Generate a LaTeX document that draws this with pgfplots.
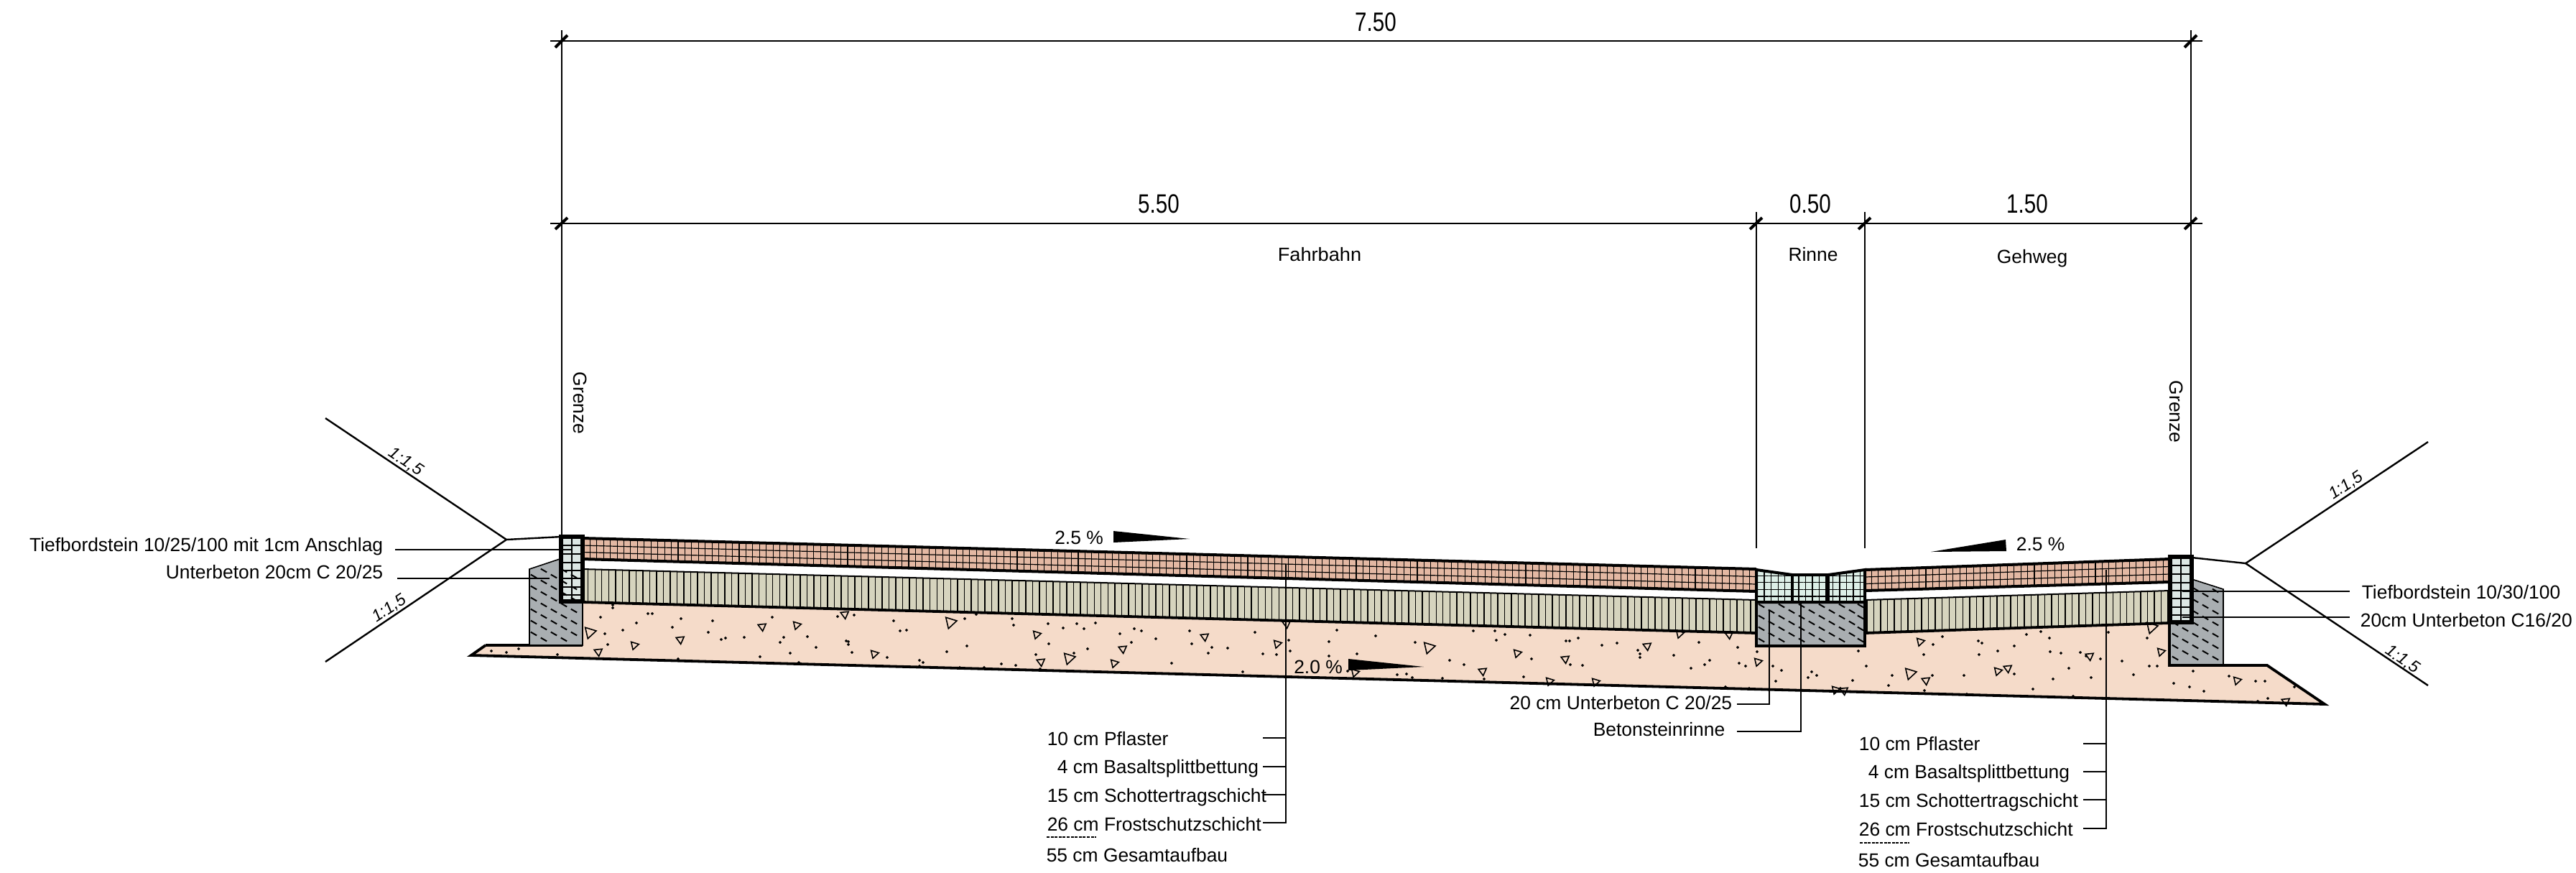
\documentclass[border=0pt]{standalone}
\usepackage{fontspec}
\setmainfont{Liberation Sans}
\usepackage{graphicx}
\usepackage{pgfplots}
\pgfplotsset{compat=1.18}
\usetikzlibrary{patterns,patterns.meta}

\definecolor{frost}{HTML}{F5DBC9}
\definecolor{pflaster}{HTML}{E3B8A3}
\definecolor{schotter}{HTML}{D6D4BE}
\definecolor{beton}{HTML}{A9AEB1}
\definecolor{bord}{HTML}{DDE7E4}
\definecolor{rinne}{HTML}{DDEFE7}

\tikzset{
  txt/.style={inner sep=0pt,font=\fontsize{6.6}{8}\selectfont},
  dim/.style={inner sep=0pt,font=\fontsize{9.25}{11}\selectfont,anchor=base},
  slope/.style={inner sep=0pt,font=\fontsize{5.8}{7}\selectfont\itshape},
}
\pgfplotsset{
  ln/.style={black,line width=0.6pt},
  vlines/.style={pattern={Lines[angle=90,distance=2.38pt,line width=0.36pt]},pattern color=black,draw=none},
  plines/.style={pattern={Lines[angle=90,distance=2.36pt,line width=0.27pt]},pattern color=black,draw=none},
  hlines/.style={pattern={Lines[angle=0,distance=2.4pt,line width=0.3pt]},pattern color=black,draw=none},
  hatch/.style={only marks,mark=-,mark size=1.2pt,mark options={black,rotate=-30,line width=0.5pt}},
  trisize/.style={only marks,mark=triangle,mark size=#1,mark options={line width=0.42pt,fill=none}},
}

\begin{document}
\begin{tikzpicture}
\useasboundingbox (0,0) rectangle (896.5pt,303.5pt);
\begin{axis}[
    at={(0,0)},
    anchor=south west,
    scale only axis,
    width=896.5pt,
    height=303.5pt,
    xmin=0,xmax=3586,
    ymin=0,ymax=1214,
    y dir=reverse,
    hide axis,
    clip=false,
]
% Frostschutzschicht
\addplot[fill=frost,draw=none] coordinates {(656,912)(676,898)(811,898)(811,838)(2445,881)(2445,899)(2596,899)(2596,881)(3020,867)(3020,926)(3156,926)(3236,980)} -- cycle;
% dots of the frost layer
\addplot[only marks,mark=*,mark size=0.25pt,mark options={draw=none,fill=black}] coordinates {
(684,906)(705,908)(722,903)(776,911)
(853,842)(853,846)(836,859)(902,854)(908,854)(886,867)(867,877)(842,882)(846,897)(948,861)(936,873)(992,864)(986,880)(1004,890)(1010,888)(1036,887)(1075,859)(1091,887)(1086,894)(1124,886)(1136,901)(1100,909)(1058,914)(1112,922)(944,917)(1166,858)(1189,856)(1178,892)(1181,893)(1181,897)(1186,908)(1244,864)(1253,878)(1262,877)(1235,915)(1280,919)(1285,922)(1280,927)(1318,907)
(1343,861)(1359,855)(1409,861)(1411,870)(1459,868)(1499,868)(1525,867)(1480,874)(1509,875)(1559,882)(1579,875)(1589,878)(1609,889)(1656,878)(1659,896)(1687,901)(1709,902)(1682,909)(1747,880)(1758,910)(1777,911)(1794,891)(1796,906)(1850,893)(1460,896)(1346,899)(1514,903)(1575,894)(1442,911)(1495,909)(1394,924)(1414,926)(1336,929)(1370,929)(1448,931)(1631,923)(1730,935)(1850,913)
(1861,877)(1915,885)(1970,894)(1889,910)(2051,878)(2081,878)(2095,883)(2083,891)(2130,884)(2180,892)(2185,892)(2197,888)(2230,898)(2251,895)(2280,905)(2283,910)(2283,915)(2365,894)(2330,912)(2132,917)(2018,919)(2038,925)(2186,925)(2203,926)(2354,930)(2373,925)(1945,939)(1958,938)(1966,943)(2008,944)(2066,945)(2121,942)(1876,934)
(2419,901)(2380,919)(2421,923)(2430,927)(2446,907)(2468,927)(2480,933)(2472,948)(2517,943)(2522,935)(2529,940)(2579,947)(2598,927)(2587,906)(2402,956)(2435,958)(2562,958)
(2704,886)(2691,897)(2678,911)(2634,940)(2629,954)(2679,961)(2690,940)(2734,940)(2754,892)(2759,895)(2781,906)(2755,911)(2804,899)(2821,883)(2841,879)(2853,888)(2854,907)(2869,909)(2896,908)(2904,913)(2924,917)(2880,930)(2911,943)(2858,945)(2830,959)(2804,938)(2935,880)(2954,920)(2989,888)(2992,927)(3003,927)(2970,939)(3026,951)(3048,956)(3068,962)(3053,934)(3103,941)(2738,966)(2886,969)
(3140,948)(3153,948)(3194,956)(3157,972)(3143,976)
};
% triangles, pointing right
\addplot[trisize=1.6pt,mark options={rotate=-77}] coordinates {
(883,898)(1109,870)(1217,910)(1443,883)(1551,923)(1778,896)(1886,936)(2112,909)(2157,948)(2221,949)(2338,882)(2447,921)(2555,960)(2673,893)(2781,934)(3008,907)(3114,947)
};
\addplot[trisize=2.3pt,mark options={rotate=-77}] coordinates {
(821,880)(1323,866)(1488,916)(1989,901)(2659,937)(2995,873)
};
% triangles, pointing down
\addplot[trisize=1.6pt,mark options={rotate=186}] coordinates {
(833,907)(947,890)(1061,872)(1176,855)(1449,921)(1563,903)(1677,886)(1791,868)(2064,934)(2179,917)(2293,899)(2407,883)(2567,961)(2681,947)(2795,930)(2909,913)(3182,976)
};
% white strip keeps the clipped triangles inside the layer
\addplot[fill=white,draw=none] coordinates {(640,911.6)(3250,980.4)(3250,1000)(640,932)} -- cycle;
\addplot[black,line width=0.95pt] coordinates {(676,898)(656,912)(3236,980)(3156,926)(3020,926)};
\addplot[black,line width=1pt] coordinates {(676,898)(811,898)};

% Schottertragschicht
\addplot[fill=schotter,draw=none] coordinates {(811,792)(2445,835)(2445,881)(811,838)} -- cycle;
\addplot[vlines] coordinates {(811,792)(2445,835)(2445,881)(811,838)} -- cycle;
\addplot[black,line width=0.5pt] coordinates {(811,792)(2445,835)};
\addplot[black,line width=0.95pt] coordinates {(811,838)(2445,881)};
\addplot[fill=schotter,draw=none] coordinates {(2596,835)(3020,822)(3020,867)(2596,881)} -- cycle;
\addplot[vlines] coordinates {(2596,835)(3020,822)(3020,867)(2596,881)} -- cycle;
\addplot[black,line width=0.5pt] coordinates {(2596,835)(3020,822)};
\addplot[black,line width=0.95pt] coordinates {(2596,881)(3020,867)};

% Pflaster
\addplot[fill=pflaster,draw=none] coordinates {(811,749)(2445,792)(2445,823)(811,778)} -- cycle;
\addplot[plines] coordinates {(811,749)(2445,792)(2445,823)(811,778)} -- cycle;
\addplot[black,line width=0.3pt] coordinates {(811,759)(2445,802.5)};
\addplot[black,line width=0.3pt] coordinates {(811,768.5)(2445,813)};
\addplot[black,line width=1pt] coordinates {(2445,792)(811,749)(811,778)(2445,823)};
\addplot[fill=pflaster,draw=none] coordinates {(2596,793)(3020,778)(3020,810)(2596,822)} -- cycle;
\addplot[plines] coordinates {(2596,793)(3020,778)(3020,810)(2596,822)} -- cycle;
\addplot[black,line width=0.3pt] coordinates {(2596,803)(3020,788.5)};
\addplot[black,line width=0.3pt] coordinates {(2596,812.5)(3020,799)};
\addplot[black,line width=1pt] coordinates {(3020,778)(2596,793)};
\addplot[black,line width=1pt] coordinates {(3020,810)(2596,822)};

% Unterbeton
\addplot[fill=beton,draw=black,line width=0.4pt] coordinates {(737,792)(779,778)(811,778)(811,898)(737,898)} -- cycle;
\addplot[hatch] coordinates {
(757,794)(785,794)(743,802)(771,802)(799,802)(757,810)(785,810)(743,818)(771,818)(799,818)
(757,826)(785,826)(743,834)(771,834)(799,834)(757,842)(785,842)(743,850)(771,850)(799,850)
(757,858)(785,858)(743,866)(771,866)(799,866)(757,874)(785,874)(743,882)(771,882)(799,882)
(757,890)(785,890)
};
\addplot[fill=beton,draw=black,line width=0.4pt] coordinates {(3051,806)(3095,820)(3095,926)(3020,926)(3020,806)} -- cycle;
\addplot[hatch] coordinates {
(3056,820)(3084,822)(3070,828)(3056,836)(3084,836)(3070,844)(3056,852)(3084,852)(3070,860)
(3028,868)(3056,868)(3084,868)(3042,876)(3070,876)(3028,884)(3056,884)(3084,884)(3042,892)(3070,892)
(3028,900)(3056,900)(3084,900)(3042,908)(3070,908)(3028,916)(3056,916)(3084,916)
};
\addplot[black,line width=1pt] coordinates {(3020,860)(3020,926)(3156,926)};
\addplot[fill=beton,draw=black,line width=0.85pt] coordinates {(2445,838)(2596,838)(2596,899)(2445,899)} -- cycle;
\addplot[hatch] coordinates {
(2452,843)(2480,843)(2508,843)(2536,843)(2564,843)(2590,843)
(2466,851)(2494,851)(2522,851)(2550,851)(2578,851)
(2452,859)(2480,859)(2508,859)(2536,859)(2564,859)(2590,859)
(2466,867)(2494,867)(2522,867)(2550,867)(2578,867)
(2452,875)(2480,875)(2508,875)(2536,875)(2564,875)(2590,875)
(2466,883)(2494,883)(2522,883)(2550,883)(2578,883)
(2452,891)(2480,891)(2508,891)(2536,891)(2564,891)(2590,891)
};

% Betonsteinrinne
\addplot[fill=rinne,draw=none] coordinates {(2445,793)(2495,800)(2545,800)(2596,793)(2596,838)(2445,838)} -- cycle;
\addplot[vlines] coordinates {(2445,793)(2495,800)(2545,800)(2596,793)(2596,838)(2445,838)} -- cycle;
\addplot[hlines] coordinates {(2445,793)(2495,800)(2545,800)(2596,793)(2596,838)(2445,838)} -- cycle;
\addplot[black,line width=1pt] coordinates {(2445,838)(2445,793)(2495,800)(2545,800)(2596,793)(2596,838)(2445,838)};
\addplot[black,line width=1.1pt] coordinates {(2495,800)(2495,838)};
\addplot[black,line width=1.1pt] coordinates {(2545,800)(2545,838)};

% Tiefbordsteine
\addplot[fill=bord,draw=none] coordinates {(781,747)(811,747)(811,837)(781,837)} -- cycle;
\addplot[black,line width=0.4pt,unbounded coords=jump] coordinates {
(796,747)(796,837)(796,nan)
(781,759)(811,759)(811,nan)(781,771)(811,771)(811,nan)(781,783)(811,783)(811,nan)
(781,794)(811,794)(811,nan)(781,805)(811,805)(811,nan)(781,817)(811,817)(811,nan)(781,828)(811,828)
};
\addplot[black,line width=1.3pt] coordinates {(781,747)(811,747)(811,837)(781,837)} -- cycle;
\addplot[fill=bord,draw=none] coordinates {(3021,775)(3051,775)(3051,866)(3021,866)} -- cycle;
\addplot[black,line width=0.4pt,unbounded coords=jump] coordinates {
(3036,775)(3036,866)(3036,nan)
(3021,787)(3051,787)(3051,nan)(3021,799)(3051,799)(3051,nan)(3021,811)(3051,811)(3051,nan)
(3021,822)(3051,822)(3051,nan)(3021,833)(3051,833)(3051,nan)(3021,845)(3051,845)(3051,nan)(3021,856)(3051,856)
};
\addplot[black,line width=1.3pt] coordinates {(3021,775)(3051,775)(3051,866)(3021,866)} -- cycle;

% Boeschungen
\addplot[ln] coordinates {(453,582)(705,751)(453,921)};
\addplot[ln] coordinates {(705,751)(781,747)};
\addplot[ln] coordinates {(3380,615)(3126,784)(3380,954)};
\addplot[ln] coordinates {(3126,784)(3051,776)};

% Masslinien
\addplot[ln] coordinates {(782,42)(782,747)};
\addplot[ln] coordinates {(3050,42)(3050,776)};
\addplot[ln] coordinates {(2445,295)(2445,763)};
\addplot[ln] coordinates {(2596,295)(2596,763)};
\addplot[ln] coordinates {(766,57)(3066,57)};
\addplot[ln] coordinates {(766,311)(3066,311)};
\addplot[black,line width=1pt,unbounded coords=jump] coordinates {
(773,66)(790,49)(790,nan)(3041,66)(3058,49)(3058,nan)
(773,319)(790,303)(790,nan)(2436,319)(2453,303)(2453,nan)(2587,319)(2604,303)(2604,nan)(3041,319)(3058,303)
};

% Hinweislinien
\addplot[ln] coordinates {(550,765)(797,765)};
\addplot[ln] coordinates {(553,805)(765,805)};
\addplot[ln] coordinates {(3271,823)(3038,823)};
\addplot[ln] coordinates {(3271,859)(3038,859)};
\addplot[ln] coordinates {(1790,785)(1790,1145)(1758,1145)};
\addplot[ln] coordinates {(1758,1027)(1790,1027)};
\addplot[ln] coordinates {(1758,1067)(1790,1067)};
\addplot[ln] coordinates {(1758,1106)(1790,1106)};
\addplot[ln] coordinates {(2932,793)(2932,1153)(2900,1153)};
\addplot[ln] coordinates {(2900,1035)(2932,1035)};
\addplot[ln] coordinates {(2900,1074)(2932,1074)};
\addplot[ln] coordinates {(2900,1113)(2932,1113)};
\addplot[ln] coordinates {(2463,850)(2463,980)(2418,980)};
\addplot[ln] coordinates {(2507,838)(2507,1018)(2418,1018)};
\addplot[black,line width=0.5pt,dash pattern=on 1pt off 0.4pt] coordinates {(1457,1165)(1526,1165)};
\addplot[black,line width=0.5pt,dash pattern=on 1pt off 0.4pt] coordinates {(2589,1173)(2658,1173)};

% Gefaellekeile
\addplot[fill=black,draw=none] coordinates {(1550,739)(1550,755)(1656,750)} -- cycle;
\addplot[fill=black,draw=none] coordinates {(2688,768)(2792,751)(2793,767)} -- cycle;
\addplot[fill=black,draw=none] coordinates {(1877,917)(1877,933)(1982,928)} -- cycle;

% Texte
\node[dim] at (1915,43) {\scalebox{0.8}[1]{7.50}};
\node[dim] at (1613,296) {\scalebox{0.8}[1]{5.50}};
\node[dim] at (2520,296) {\scalebox{0.8}[1]{0.50}};
\node[dim] at (2822,296) {\scalebox{0.8}[1]{1.50}};
\node[txt,anchor=base] at (1837,363) {\scalebox{1.03}[1]{Fahrbahn}};
\node[txt,anchor=base] at (2524,363) {Rinne};
\node[txt,anchor=base] at (2829,366) {Gehweg};
\node[txt,rotate=-90] at (808,561) {Grenze};
\node[txt,rotate=-90] at (3030,573) {Grenze};
\node[slope,rotate=-34] at (565,643) {1:1,5};
\node[slope,rotate=34] at (542,847) {1:1,5};
\node[slope,rotate=34] at (3266,676) {1:1,5};
\node[slope,rotate=-34] at (3344,918) {1:1,5};
\node[txt,anchor=base] at (1502,757) {2.5 \%};
\node[txt,anchor=base west] at (2806,766) {2.5 \%};
\node[txt,anchor=base] at (1835,937) {2.0 \%};
\node[txt,anchor=base east] at (534,767) {Tiefbordstein 10/25/100 mit 1cm Anschlag};
\node[txt,anchor=base east] at (534,805) {Unterbeton 20cm C 20/25};
\node[txt,anchor=base west] at (3287,833) {Tiefbordstein 10/30/100};
\node[txt,anchor=base west] at (3285,872) {20cm Unterbeton C16/20};
\node[txt,anchor=base west] at (1457,1037) {10 cm Pflaster};
\node[txt,anchor=base west] at (1471,1076) {4 cm Basaltsplittbettung};
\node[txt,anchor=base west] at (1457,1116) {15 cm Schottertragschicht};
\node[txt,anchor=base west] at (1457,1156) {26 cm Frostschutzschicht};
\node[txt,anchor=base west] at (1456,1199) {55 cm Gesamtaufbau};
\node[txt,anchor=base west] at (2587,1044) {10 cm Pflaster};
\node[txt,anchor=base west] at (2600,1083) {4 cm Basaltsplittbettung};
\node[txt,anchor=base west] at (2587,1123) {15 cm Schottertragschicht};
\node[txt,anchor=base west] at (2587,1163) {26 cm Frostschutzschicht};
\node[txt,anchor=base west] at (2586,1206) {55 cm Gesamtaufbau};
\node[txt,anchor=base east] at (2412,987) {20 cm Unterbeton C 20/25};
\node[txt,anchor=base east] at (2402,1024) {Betonsteinrinne};
\end{axis}
\end{tikzpicture}
\end{document}
